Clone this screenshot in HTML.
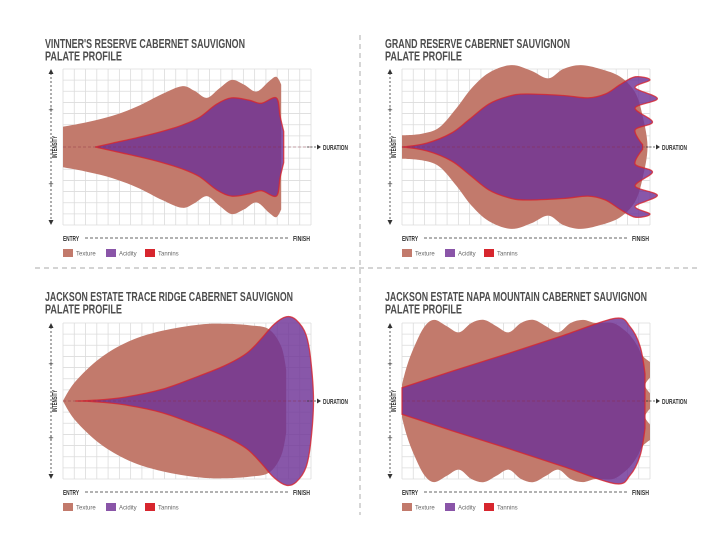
<!DOCTYPE html>
<html><head><meta charset="utf-8"><style>
html,body{margin:0;padding:0;background:#fff;}
svg{display:block;}
text{font-family:"Liberation Sans",sans-serif;}
</style></head><body>
<svg id="chart" width="720" height="540" viewBox="0 0 720 540" xmlns="http://www.w3.org/2000/svg">
<line x1="360" y1="35" x2="360" y2="515" stroke="#bbb" stroke-width="1.2" stroke-dasharray="5,4"/>
<line x1="35" y1="268" x2="700" y2="268" stroke="#bbb" stroke-width="1.2" stroke-dasharray="5,4"/>
</svg>
<script>
// Vintner's Reserve: duration (0-100) and intensity (0-100) of top half outline
const vintnerTextureDur = [0,0,10,20,30,40,48,53,58,63,68,73,78,83,86,88,88];
const vintnerTextureInt = [0,26,32,40,52,68,78,72,63,75,86,80,71,84,90,80,0];
const vintnerAcidityDur = [13,20,30,40,48,55,62,68,75,80,86,87.5,89,89];
const vintnerAcidityInt = [0,5,12,20,28,38,55,63,60,56,63,40,20,0];
// Grand Reserve
const grandTextureDur = [0,0,8,15,22,28,35,44,52,59,65,72,80,88,94,97,99];
const grandTextureInt = [0,15,17,25,50,75,95,105,98,88,100,105,100,90,70,40,0];
const grandAcidityDur = [0,10,20,27,35,43,50,65,75,82,88,94,100,94,103,94,101,94,97,97];
const grandAcidityInt = [0,5,18,35,55,65,68,66,63,68,80,90,86,76,62,50,32,22,3,0];
// Trace Ridge
const traceTextureDur = [0,5,15,27,40,55,65,75,83,88,90,90];
const traceTextureInt = [0,25,55,77,90,98,99,97,92,70,40,0];
const traceAcidityDur = [5,13,25,40,54,65,74,80,85,90,94,98,100,101];
const traceAcidityInt = [0,1,5,15,31,45,61,80,98,108,104,85,50,0];
// Napa Mountain
const napaTextureDur = [0,0,2,5,9,13,18,23,28,33,38,43,48,53,58,63,68,73,78,85,90,93,95,97,100,100,98,100,100];
const napaTextureInt = [0,21,45,70,95,104,96,88,100,104,96,88,100,104,96,88,100,104,100,100,90,80,70,58,50,30,20,10,0];
const napaAcidityDur = [0,0,20,43,65,86,92,96,98,98];
const napaAcidityInt = [0,17,38,61,84,106,95,70,35,0];

const panels = [
  {id:'vintners-reserve', title:"VINTNER'S RESERVE CABERNET SAUVIGNON", tw:200, tx:45, ty:48, x0:63, cy:147,
   tD:vintnerTextureDur, tI:vintnerTextureInt, aD:vintnerAcidityDur, aI:vintnerAcidityInt},
  {id:'grand-reserve', title:"GRAND RESERVE CABERNET SAUVIGNON", tw:185, tx:385, ty:48, x0:402, cy:147,
   tD:grandTextureDur, tI:grandTextureInt, aD:grandAcidityDur, aI:grandAcidityInt},
  {id:'trace-ridge', title:"JACKSON ESTATE TRACE RIDGE CABERNET SAUVIGNON", tw:248, tx:45, ty:301, x0:63, cy:401,
   tD:traceTextureDur, tI:traceTextureInt, aD:traceAcidityDur, aI:traceAcidityInt},
  {id:'napa-mountain', title:"JACKSON ESTATE NAPA MOUNTAIN CABERNET SAUVIGNON", tw:262, tx:385, ty:301, x0:402, cy:401,
   tD:napaTextureDur, tI:napaTextureInt, aD:napaAcidityDur, aI:napaAcidityInt}
];
const W = 248, H = 78;
const NS = 'http://www.w3.org/2000/svg';
const svg = document.getElementById('chart');
function mk(tag, attrs, parent){
  const e = document.createElementNS(NS, tag);
  for (const k in attrs) e.setAttribute(k, attrs[k]);
  (parent||svg).appendChild(e);
  return e;
}
function tangent(pts, i){
  const n = pts.length;
  const prev = pts[(i-1+n)%n], cur = pts[i], next = pts[(i+1)%n];
  if (Math.abs(prev[0]-cur[0])<0.6 || Math.abs(next[0]-cur[0])<0.6) return [0,0];
  return [(next[0]-prev[0])/6, (next[1]-prev[1])/6];
}
function smooth(pts){
  let d = 'M'+pts[0][0].toFixed(1)+','+pts[0][1].toFixed(1);
  for (let i=0;i<pts.length-1;i++){
    const p1=pts[i], p2=pts[i+1];
    const t1=tangent(pts,i), t2=tangent(pts,i+1);
    d += 'C'+(p1[0]+t1[0]).toFixed(1)+','+(p1[1]+t1[1]).toFixed(1)+' '+(p2[0]-t2[0]).toFixed(1)+','+(p2[1]-t2[1]).toFixed(1)+' '+p2[0].toFixed(1)+','+p2[1].toFixed(1);
  }
  return d;
}
function shapePath(p, D, I){
  const xs = v => p.x0 + v/100*W;
  const yTop = v => p.cy - v/100*H;
  const yBot = v => p.cy + v/100*H;
  const top = D.map((d,i)=>[xs(d), yTop(I[i])]);
  const bot = D.map((d,i)=>[xs(d), yBot(I[i])]).reverse();
  const all = top.concat(bot.slice(1, bot.length-1));
  all.push(top[0]);
  return smooth(all)+'Z';
}
panels.forEach(p=>{
  const g = mk('g', {});
  
  
  const t1 = mk('text', {x:p.tx, y:p.ty, 'font-size':13, 'font-weight':'bold', fill:'#4d4d4d', textLength:p.tw, lengthAdjust:'spacingAndGlyphs'}, g);
  t1.textContent = p.title;
  
  
  const t2 = mk('text', {x:p.tx, y:p.ty+12.5, 'font-size':13, 'font-weight':'bold', fill:'#4d4d4d', textLength:77, lengthAdjust:'spacingAndGlyphs'}, g);
  t2.textContent = 'PALATE PROFILE';
  
  
  const grid = mk('g', {stroke:'#dcdcdc', 'stroke-width':0.8}, g);
  
  
  for (let i=0;i<=22;i++){ const x=p.x0+i*W/22; mk('line',{x1:x,x2:x,y1:p.cy-H,y2:p.cy+H},grid); }
  for (let j=0;j<=14;j++){ const y=p.cy-H+j*2*H/14; mk('line',{x1:p.x0,x2:p.x0+W,y1:y,y2:y},grid); }
  const tex = mk('path', {d:shapePath(p,p.tD,p.tI), fill:'#c27a6c'}, g);
  
  
  const ac = mk('path', {d:shapePath(p,p.aD,p.aI), fill:'rgba(110,50,150,0.82)', stroke:'#d7262e', 'stroke-width':1.3, 'stroke-opacity':0.8}, g);
  
  
  const cl = mk('line', {x1:p.x0, x2:p.x0+W, y1:p.cy, y2:p.cy, stroke:'#8a2a3a', 'stroke-width':0.8, 'stroke-dasharray':'3,2', opacity:0.5}, g);
  
  
  const ax = p.x0-12;
  const ia = mk('line', {x1:ax, x2:ax, y1:p.cy-H+4, y2:p.cy+H-4, stroke:'#333', 'stroke-width':0.8, 'stroke-dasharray':'2,2'}, g);
  
  
  mk('path', {d:`M${ax-2.5},${p.cy-H+5}L${ax},${p.cy-H}L${ax+2.5},${p.cy-H+5}Z`, fill:'#333'}, g);
  mk('path', {d:`M${ax-2.5},${p.cy+H-5}L${ax},${p.cy+H}L${ax+2.5},${p.cy+H-5}Z`, fill:'#333'}, g);
  [p.cy-37, p.cy+37].forEach(y=>{
    const pl = mk('text', {x:ax, y:y+3, 'font-size':9, 'text-anchor':'middle', fill:'#333'}, g);
    pl.textContent = '+';
  });
  const it = mk('text', {x:0, y:0, 'font-size':7, 'font-weight':'bold', fill:'#333', 'text-anchor':'middle', textLength:22, lengthAdjust:'spacingAndGlyphs', transform:`translate(${p.x0-6},${p.cy}) rotate(-90)`}, g);
  it.textContent = 'INTENSITY';
  
  
  const dx = p.x0+W-4;
  mk('line', {x1:dx, x2:dx+10, y1:p.cy, y2:p.cy, stroke:'#333', 'stroke-width':0.8, 'stroke-dasharray':'2,1.5'}, g);
  mk('path', {d:`M${dx+10},${p.cy-2.5}L${dx+14},${p.cy}L${dx+10},${p.cy+2.5}Z`, fill:'#333'}, g);
  const du = mk('text', {x:dx+16, y:p.cy+3, 'font-size':7.5, 'font-weight':'bold', fill:'#333', textLength:25, lengthAdjust:'spacingAndGlyphs'}, g);
  du.textContent = 'DURATION';
  
  
  const ey = p.cy+H+13;
  const en = mk('text', {x:p.x0, y:ey+3, 'font-size':7.5, 'font-weight':'bold', fill:'#333', textLength:16, lengthAdjust:'spacingAndGlyphs'}, g);
  en.textContent = 'ENTRY';
  
  
  mk('line', {x1:p.x0+22, x2:p.x0+W-22, y1:ey, y2:ey, stroke:'#333', 'stroke-width':0.8, 'stroke-dasharray':'3,2'}, g);
  const fi = mk('text', {x:p.x0+W-18, y:ey+3, 'font-size':7.5, 'font-weight':'bold', fill:'#333', textLength:17, lengthAdjust:'spacingAndGlyphs'}, g);
  fi.textContent = 'FINISH';
  
  
  const ly = ey+15;
  [['Texture','#c27a6c',0],['Acidity','#8a55a8',43],['Tannins','#d7262e',82]].forEach(([lab,col,off])=>{
    const lg = mk('g', {}, g);
    
    
    mk('rect', {x:p.x0+off, y:ly-4, width:10, height:8, fill:col}, lg);
    const lt = mk('text', {x:p.x0+off+13, y:ly+2.5, 'font-size':6, fill:'#666'}, lg);
    lt.textContent = lab;
  });
});
</script>
</body></html>
